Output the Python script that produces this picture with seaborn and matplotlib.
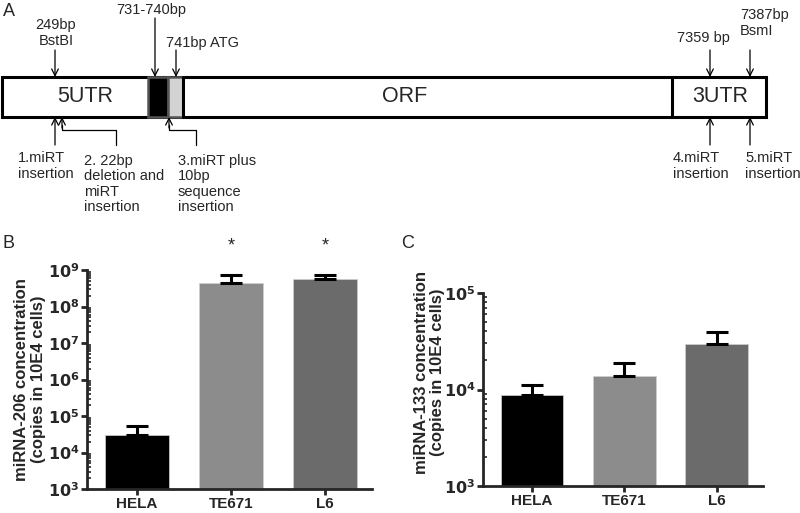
import matplotlib
matplotlib.use("Agg")
import matplotlib.pyplot as plt
import seaborn as sns
import numpy as np
import pandas as pd
from matplotlib.patches import Rectangle
from matplotlib.ticker import LogLocator, FixedLocator

sns.set_theme(style="ticks")
plt.rcParams['font.family'] = ['Liberation Sans', 'DejaVu Sans']

# ---- data ----
cells = ["HELA", "TE671", "L6"]
mir206_mean = [3.0e4, 4.5e8, 5.5e8]
mir206_upper = [5.2e4, 7.2e8, 7.2e8]
mir133_mean = [8.8e3, 1.38e4, 2.96e4]
mir133_upper = [1.11e4, 1.9e4, 3.9e4]
bar_colors = ["#000000", "#8c8c8c", "#6b6b6b"]
signif = ["", "*", "*"]

W, H = 800, 513
fig = plt.figure(figsize=(W / 100, H / 100), dpi=100)

# overlay axes in pixel coordinates for panel A
ov = fig.add_axes([0, 0, 1, 1])
ov.set_xlim(0, W)
ov.set_ylim(H, 0)
ov.axis("off")
ov.set_zorder(5)
ov.patch.set_alpha(0)

lw_box = 2.2
ov.add_patch(Rectangle((2, 77), 764, 40, fill=False, ec="black", lw=lw_box))
ov.add_patch(Rectangle((148, 77), 20, 40, fc="black", ec="#555555", lw=1.8))
ov.add_patch(Rectangle((168, 77), 15, 40, fc="#d3d3d3", ec="#555555", lw=1.8))
ov.plot([183, 183], [77, 117], color="black", lw=lw_box)
ov.plot([672, 672], [77, 117], color="black", lw=lw_box)

ov.text(85, 97, "5UTR", fontsize=15.5, ha="center", va="center")
ov.text(405, 97, "ORF", fontsize=15.5, ha="center", va="center")
ov.text(720, 97, "3UTR", fontsize=15.5, ha="center", va="center")

tfs = 10.5
ls = 1.15
ov.text(9, 12, "A", fontsize=13, ha="center", va="center")
ov.text(56, 33, "249bp\nBstBI", fontsize=tfs, ha="center", va="center", linespacing=ls)
ov.text(151, 10, "731-740bp", fontsize=tfs, ha="center", va="center")
ov.text(166, 43, "741bp ATG", fontsize=tfs, ha="left", va="center")
ov.text(703, 38, "7359 bp", fontsize=tfs, ha="center", va="center")
ov.text(740, 23, "7387bp\nBsmI", fontsize=tfs, ha="left", va="center", linespacing=ls)

arrow_kw = dict(arrowstyle="->", color="black", lw=0.9, shrinkA=0, shrinkB=0, mutation_scale=12)
def down_arrow(x, y0, y1):
    ov.annotate("", xy=(x, y1), xytext=(x, y0), arrowprops=arrow_kw)

down_arrow(55, 50, 77)
down_arrow(155, 18, 77)
down_arrow(176, 50, 77)
down_arrow(710, 50, 77)
down_arrow(750, 50, 77)
# upward arrows below
down_arrow(55, 145, 117)
down_arrow(710, 145, 117)
down_arrow(750, 145, 117)
# elbow arrows
ov.plot([116, 116, 62, 62], [145, 130, 130, 125], color="black", lw=0.9)
down_arrow(62, 128, 117)
ov.plot([196, 196, 169, 169], [145, 130, 130, 125], color="black", lw=0.9)
down_arrow(169, 128, 117)

ov.text(18, 166, "1.miRT\ninsertion", fontsize=tfs, ha="left", va="center", linespacing=ls)
ov.text(84, 184, "2. 22bp\ndeletion and\nmiRT\ninsertion", fontsize=tfs, ha="left", va="center", linespacing=ls)
ov.text(178, 184, "3.miRT plus\n10bp\nsequence\ninsertion", fontsize=tfs, ha="left", va="center", linespacing=ls)
ov.text(673, 166, "4.miRT\ninsertion", fontsize=tfs, ha="left", va="center", linespacing=ls)
ov.text(745, 166, "5.miRT\ninsertion", fontsize=tfs, ha="left", va="center", linespacing=ls)

ov.text(8, 244, "B", fontsize=13, ha="center", va="center")
ov.text(408, 244, "C", fontsize=13, ha="center", va="center")


def bar_panel(rect, means, uppers, ylim, ylabel, label_xy, stars=None):
    ax = fig.add_axes(rect)
    df = pd.DataFrame({"cell": cells, "value": means})
    sns.barplot(data=df, x="cell", y="value", hue="cell", palette=bar_colors,
                legend=False, width=0.68, ax=ax, edgecolor="#d0d0d0", linewidth=0.5,
                log_scale=(False, True))
    x = np.arange(len(cells))
    err_up = np.array(uppers) - np.array(means)
    ax.errorbar(x, means, yerr=[np.zeros(len(x)), err_up], fmt="none",
                ecolor="black", elinewidth=2.2, capsize=8, capthick=2.2)
    ax.set_yscale("log")
    ax.set_ylim(*ylim)
    ax.set_xlim(-0.53, 2.5)
    lo, hi = int(np.log10(ylim[0])), int(np.log10(ylim[1]))
    ax.yaxis.set_major_locator(FixedLocator([10.0 ** k for k in range(lo, hi + 1)]))
    ax.set_yticklabels([r"$\mathbf{10^{%d}}$" % k for k in range(lo, hi + 1)], fontsize=11.5)
    ax.yaxis.set_minor_locator(LogLocator(base=10, subs=np.arange(2, 10)))
    ax.yaxis.set_minor_formatter(plt.NullFormatter())
    ax.tick_params(axis="y", which="major", direction="out", length=4, width=2, pad=1.5)
    ax.tick_params(axis="y", which="minor", direction="in", length=3, width=1.2)
    ax.tick_params(axis="x", direction="out", length=4, width=2, labelsize=11, pad=1.5)
    for lab in ax.get_xticklabels():
        lab.set_fontweight("bold")
    ax.set_xlabel("")
    ax.set_ylabel(ylabel, fontsize=12, fontweight="bold", linespacing=1.1)
    ax.yaxis.set_label_coords(*label_xy)
    for s in ["top", "right"]:
        ax.spines[s].set_visible(False)
    for s in ["left", "bottom"]:
        ax.spines[s].set_linewidth(2)
    ax.set_facecolor("none")
    if stars:
        for xi, st in zip(x, stars):
            if st:
                ax.annotate(st, xy=(xi, ylim[1]), xytext=(0, 17), textcoords="offset points",
                            ha="center", va="center", fontsize=13, annotation_clip=False)
    return ax


axB = bar_panel([87 / W, (H - 489) / H, 285 / W, 219 / H], mir206_mean, mir206_upper,
                (1e3, 1e9), "miRNA-206 concentration\n(copies in 10E4 cells)",
                (-0.145, 0.5), stars=signif)
axC = bar_panel([483 / W, (H - 486) / H, 280 / W, 193 / H], mir133_mean, mir133_upper,
                (1e3, 1e5), "miRNA-133 concentration\n(copies in 10E4 cells)",
                (-0.135, 0.59))

fig.savefig("out.png", dpi=100)
